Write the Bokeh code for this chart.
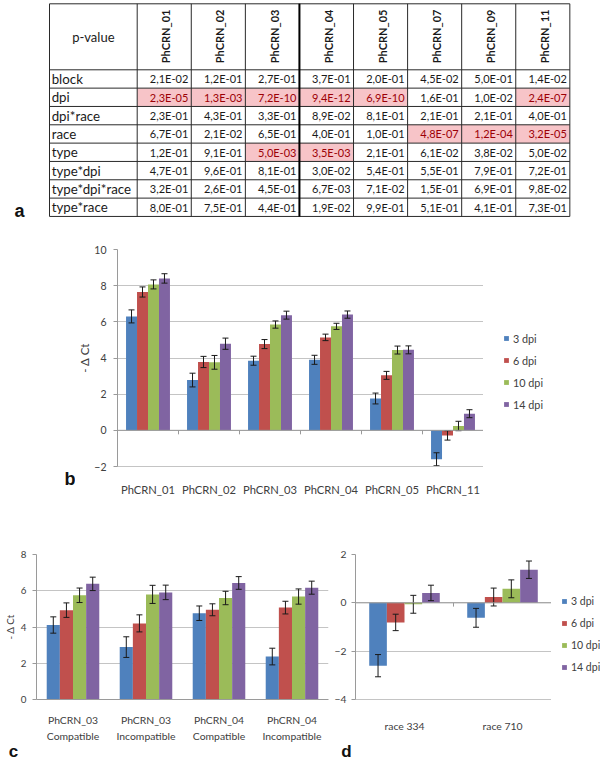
import math
from bokeh.plotting import figure
from bokeh.models import (Range1d, FactorRange, ColumnDataSource, Legend, LegendItem,
                          Label, Span, FixedTicker, Title)
from bokeh.transform import dodge
from bokeh.layouts import row
from bokeh.embed import file_html
from bokeh.resources import INLINE

# ------------------------------------------------------------------ data
table_genes = ["PhCRN_01", "PhCRN_02", "PhCRN_03", "PhCRN_04",
               "PhCRN_05", "PhCRN_07", "PhCRN_09", "PhCRN_11"]
table_effects = ["block", "dpi", "dpi*race", "race", "type",
                 "type*dpi", "type*dpi*race", "type*race"]
p_block = [2.1e-02, 1.2e-01, 2.7e-01, 3.7e-01, 2.0e-01, 4.5e-02, 5.0e-01, 1.4e-02]
p_dpi = [2.3e-05, 1.3e-03, 7.2e-10, 9.4e-12, 6.9e-10, 1.6e-01, 1.0e-02, 2.4e-07]
p_dpi_race = [2.3e-01, 4.3e-01, 3.3e-01, 8.9e-02, 8.1e-01, 2.1e-01, 2.1e-01, 4.0e-01]
p_race = [6.7e-01, 2.1e-02, 6.5e-01, 4.0e-01, 1.0e-01, 4.8e-07, 1.2e-04, 3.2e-05]
p_type = [1.2e-01, 9.1e-01, 5.0e-03, 3.5e-03, 2.1e-01, 6.1e-02, 3.8e-02, 5.0e-02]
p_type_dpi = [4.7e-01, 9.6e-01, 8.1e-01, 3.0e-02, 5.4e-01, 5.5e-01, 7.9e-01, 7.2e-01]
p_type_dpi_race = [3.2e-01, 2.6e-01, 4.5e-01, 6.7e-03, 7.1e-02, 1.5e-01, 6.9e-01, 9.8e-02]
p_type_race = [8.0e-01, 7.5e-01, 4.4e-01, 1.9e-02, 9.9e-01, 5.1e-01, 4.1e-01, 7.3e-01]
p_rows = [p_block, p_dpi, p_dpi_race, p_race, p_type, p_type_dpi, p_type_dpi_race, p_type_race]
highlight_threshold = 0.05 / 8

series = ["3 dpi", "6 dpi", "10 dpi", "14 dpi"]

genes_b = ["PhCRN_01", "PhCRN_02", "PhCRN_03", "PhCRN_04", "PhCRN_05", "PhCRN_11"]
b_3dpi = [6.30, 2.78, 3.85, 3.90, 1.76, -1.60]
b_6dpi = [7.65, 3.78, 4.77, 5.14, 3.04, -0.28]
b_10dpi = [8.07, 3.76, 5.85, 5.75, 4.44, 0.24]
b_14dpi = [8.40, 4.79, 6.37, 6.40, 4.45, 0.92]
b_3dpi_err = [0.36, 0.38, 0.25, 0.25, 0.30, 0.36]
b_6dpi_err = [0.28, 0.31, 0.25, 0.18, 0.22, 0.26]
b_10dpi_err = [0.25, 0.38, 0.20, 0.17, 0.22, 0.26]
b_14dpi_err = [0.26, 0.31, 0.22, 0.20, 0.22, 0.22]

groups_c = ["PhCRN_03\nCompatible", "PhCRN_03\nIncompatible",
            "PhCRN_04\nCompatible", "PhCRN_04\nIncompatible"]
c_3dpi = [4.11, 2.89, 4.76, 2.37]
c_6dpi = [4.93, 4.20, 4.95, 5.07]
c_10dpi = [5.75, 5.80, 5.60, 5.68]
c_14dpi = [6.38, 5.91, 6.43, 6.17]
c_3dpi_err = [0.45, 0.57, 0.40, 0.46]
c_6dpi_err = [0.40, 0.47, 0.33, 0.35]
c_10dpi_err = [0.40, 0.50, 0.37, 0.42]
c_14dpi_err = [0.37, 0.40, 0.35, 0.36]

races_d = ["race 334", "race 710"]
d_3dpi = [-2.60, -0.62]
d_6dpi = [-0.81, 0.24]
d_10dpi = [-0.06, 0.58]
d_14dpi = [0.41, 1.37]
d_3dpi_err = [0.46, 0.39]
d_6dpi_err = [0.34, 0.37]
d_10dpi_err = [0.37, 0.37]
d_14dpi_err = [0.32, 0.36]

# ------------------------------------------------------------------ style / geometry
COLORS = ["#4F81BD", "#C0504D", "#9BBB59", "#8064A2"]
FONT = "Lato"
TXT = "#404040"
GRID = "#c4c4c4"
AXIS = "#9a9a9a"
ERR = "#1a1a1a"
HL_FILL = "#F7C4C8"
HL_TEXT = "#9C0006"
LETTER_FONT = "Liberation Sans"
BAR_W = 0.18
CAP = 6

W = 600
HA, HB, HCD, HS = 225, 275, 244, 16     # table / b row / c-d row / letter strip


def ri(v):
    return int(round(v))


def fmt(v):
    return f"{v:.1E}".replace(".", ",")


def bare(fig):
    fig.grid.visible = False
    fig.outline_line_color = None
    return fig


# ------------------------------------------------------------------ (a) table
COL0, COLW, ROW0, ROWH = 136.7, 54.08, 69.3, 18.33     # pixel grid of the table
LW = 87.7 / COLW
HDR = (ROW0 - 3.3) / ROWH
ta = figure(width=W, height=HA,
            x_range=Range1d((0 - COL0) / COLW, (W - COL0) / COLW),
            y_range=Range1d((HA - ROW0) / ROWH, (0 - ROW0) / ROWH),
            output_backend="svg", toolbar_location=None,
            x_axis_location=None, y_axis_location=None,
            min_border_left=0, min_border_right=0, min_border_top=0, min_border_bottom=0)
bare(ta)

ncol = len(table_genes)
nrow = len(table_effects)
cell_x, cell_y, cell_t, cell_c = [], [], [], []
hl_l, hl_r, hl_t, hl_b = [], [], [], []
for r, vals in enumerate(p_rows):
    for c, v in enumerate(vals):
        cell_x.append(c + 1 - 0.055)
        cell_y.append(r + 0.5)
        cell_t.append(fmt(v))
        if v < highlight_threshold:
            cell_c.append(HL_TEXT)
            hl_l.append(c); hl_r.append(c + 1); hl_t.append(r); hl_b.append(r + 1)
        else:
            cell_c.append("#1a1a1a")

ta.quad(left=hl_l, right=hl_r, top=hl_t, bottom=hl_b, fill_color=HL_FILL, line_color=None)
hy = [-HDR] + list(range(nrow + 1))
ta.segment(x0=[-LW] * len(hy), y0=hy, x1=[ncol] * len(hy), y1=hy,
           line_color="#2a2a2a", line_width=1)
vx = [-LW] + list(range(ncol + 1))
ta.segment(x0=vx, y0=[-HDR] * len(vx), x1=vx, y1=[nrow] * len(vx),
           line_color="#2a2a2a", line_width=1)
ta.segment(x0=[3], y0=[-HDR], x1=[3], y1=[nrow], line_color="#000000", line_width=2)

ta.text(x=cell_x, y=cell_y, text=cell_t, text_color=cell_c,
        text_align="right", text_baseline="middle",
        text_font={"value": FONT}, text_font_size={"value": "11px"})
ta.text(x=[-LW + 0.04] * nrow, y=[r + 0.5 for r in range(nrow)], text=table_effects,
        text_color="#1a1a1a", text_align="left", text_baseline="middle",
        text_font={"value": FONT}, text_font_size={"value": "13.3px"})
ta.text(x=[c + 0.53 for c in range(ncol)], y=[-0.36] * ncol, text=table_genes,
        angle=math.pi / 2, text_color="#1a1a1a", text_align="left", text_baseline="middle",
        text_font={"value": FONT}, text_font_size={"value": "11px"},
        text_font_style="bold")
ta.text(x=[-LW / 2], y=[-HDR / 2], text=["p-value"], text_color="#1a1a1a",
        text_align="center", text_baseline="middle",
        text_font={"value": FONT}, text_font_size={"value": "13px"})
ta.add_layout(Label(x=(19 - COL0) / COLW, y=(210 - ROW0) / ROWH, text="a",
                    text_align="center", text_baseline="middle",
                    text_font=LETTER_FONT, text_font_style="bold",
                    text_font_size="18px", text_color="#111111"))


# ------------------------------------------------------------------ bar panels
def bar_panel(cats, vals, errs, fx0, fy0, width, height, frame_ref, yr, yticks,
              tick_fs, cat_fs, cat_standoff, tick_standoff, ylabel=None, ylabel_fs=None,
              ylabel_standoff=0, zero_line=True, xaxis_color=GRID, line_h=1.2):
    l, r_, t, b = frame_ref
    mb_l, mb_r = ri(l - fx0), ri(fx0 + width - r_)
    mb_t, mb_b = ri(t - fy0), ri(fy0 + height - b)
    p = figure(width=width, height=height, x_range=FactorRange(factors=cats),
               y_range=Range1d(*yr), output_backend="svg", toolbar_location=None,
               min_border_left=mb_l, min_border_right=mb_r,
               min_border_top=mb_t, min_border_bottom=mb_b)
    p.outline_line_color = None
    p.xgrid.visible = False
    p.ygrid.grid_line_color = GRID

    p.yaxis.ticker = FixedTicker(ticks=yticks)
    p.yaxis.axis_line_color = AXIS
    p.yaxis.major_tick_line_color = AXIS
    p.yaxis.major_tick_out = 4
    p.yaxis.major_tick_in = 0
    p.yaxis.minor_tick_line_color = None
    p.yaxis.major_label_standoff = tick_standoff
    p.yaxis.major_label_text_font = FONT
    p.yaxis.major_label_text_font_size = tick_fs
    p.yaxis.major_label_text_color = TXT
    if ylabel:
        p.yaxis.axis_label = ylabel
        p.yaxis.axis_label_text_font = FONT
        p.yaxis.axis_label_text_font_style = "normal"
        p.yaxis.axis_label_text_font_size = ylabel_fs
        p.yaxis.axis_label_text_color = TXT
        p.yaxis.axis_label_standoff = ylabel_standoff

    p.xaxis.axis_line_color = xaxis_color
    p.xaxis.major_tick_line_color = None
    p.xaxis.minor_tick_line_color = None
    p.xaxis.major_label_standoff = cat_standoff
    p.xaxis.major_label_text_font = FONT
    p.xaxis.major_label_text_font_size = cat_fs
    p.xaxis.major_label_text_color = TXT
    p.xaxis.major_label_text_line_height = line_h

    frame_h = height - mb_t - mb_b
    tick_len = 4 * (yr[1] - yr[0]) / frame_h
    if zero_line:
        p.add_layout(Span(location=0, dimension="width", line_color=AXIS, line_width=1))
        sep = ColumnDataSource(dict(x=cats, y0=[0] * len(cats), y1=[-tick_len] * len(cats)))
        p.segment(x0=dodge("x", 0.5, range=p.x_range), y0="y0",
                  x1=dodge("x", 0.5, range=p.x_range), y1="y1",
                  source=sep, line_color=AXIS, line_width=1)

    n = len(vals)
    for k in range(n):
        off = (k - (n - 1) / 2) * BAR_W
        src = ColumnDataSource(dict(
            x=cats, top=vals[k],
            lo=[v - e for v, e in zip(vals[k], errs[k])],
            hi=[v + e for v, e in zip(vals[k], errs[k])]))
        xd = dodge("x", off, range=p.x_range)
        p.vbar(x=xd, top="top", bottom=0, width=BAR_W, source=src,
               fill_color=COLORS[k], line_color=None)
        p.segment(x0=xd, y0="lo", x1=xd, y1="hi", source=src, line_color=ERR, line_width=1)
        p.scatter(x=xd, y="hi", marker="dash", size=CAP, line_color=ERR, source=src)
        p.scatter(x=xd, y="lo", marker="dash", size=CAP, line_color=ERR, source=src)
    return p


def legend_fig(fx0, fy0, width, height, frame_top, frame_bottom,
               glyph_left, last_center, pitch, lfs):
    lg = figure(width=width, height=height, x_range=Range1d(0, 1), y_range=Range1d(0, 1),
                output_backend="svg", toolbar_location=None,
                x_axis_location=None, y_axis_location=None,
                min_border_left=0, min_border_right=0,
                min_border_top=ri(frame_top - fy0), min_border_bottom=ri(fy0 + height - frame_bottom))
    bare(lg)
    # legend swatches: one bar each, placed outside the visible range
    swatches = [lg.vbar(x=[5], top=[5.1], bottom=[5], width=0.1, fill_color=c, line_color=None)
                for c in COLORS]
    item_h = 14
    leg = Legend(items=[LegendItem(label=s, renderers=[q]) for s, q in zip(series, swatches)],
                 location=(ri(glyph_left - fx0), ri(frame_bottom - last_center) - item_h // 2),
                 orientation="vertical", padding=0, margin=0, spacing=max(0, ri(pitch) - item_h),
                 glyph_width=6, glyph_height=6, label_height=item_h, label_standoff=4,
                 label_text_font=FONT, label_text_font_size=lfs, label_text_color=TXT,
                 border_line_color=None, background_fill_alpha=0)
    lg.add_layout(leg)
    return lg


# ---- (b) row: letter column | chart | legend
B_X0, B_X1 = 75, 483
fb_letter = figure(width=B_X0, height=HB, x_range=Range1d(0, 1), y_range=Range1d(0, 1),
                   output_backend="svg", toolbar_location=None,
                   x_axis_location=None, y_axis_location=None,
                   min_border_left=0, min_border_right=0,
                   min_border_top=249 - 225, min_border_bottom=500 - 466)
bare(fb_letter)
fb_letter.add_layout(Title(text="b", align="right", offset=0, standoff=0,
                           text_font=LETTER_FONT, text_font_style="bold",
                           text_font_size="18px", text_color="#111111"), "below")

pb = bar_panel(genes_b, [b_3dpi, b_6dpi, b_10dpi, b_14dpi],
               [b_3dpi_err, b_6dpi_err, b_10dpi_err, b_14dpi_err],
               B_X0, 225, B_X1 - B_X0, HB, (113, 483, 249, 466), (-2, 10),
               [-2, 0, 2, 4, 6, 8, 10], "10.5px", "11.2px", 10, 7,
               ylabel="- Δ Ct", ylabel_fs="11.5px", ylabel_standoff=0)
lgb = legend_fig(B_X1, 225, W - B_X1, HB, 249, 466, 502.7, 404.3, 22.5, "10.8px")

# ---- (c)/(d) row
C_X1, D_X1 = 330, 551
pc = bar_panel(groups_c, [c_3dpi, c_6dpi, c_10dpi, c_14dpi],
               [c_3dpi_err, c_6dpi_err, c_10dpi_err, c_14dpi_err],
               0, 500, C_X1, HCD, (32, 328, 554, 707), (0, 8), [0, 2, 4, 6, 8],
               "9.8px", "10.4px", 8, 6, ylabel="- Δ Ct", ylabel_fs="9.8px",
               ylabel_standoff=2, zero_line=False, xaxis_color=AXIS, line_h=1.35)
pd_ = bar_panel(races_d, [d_3dpi, d_6dpi, d_10dpi, d_14dpi],
                [d_3dpi_err, d_6dpi_err, d_10dpi_err, d_14dpi_err],
                C_X1, 500, D_X1 - C_X1, HCD, (355, 551, 554, 708), (-4, 2), [-4, -2, 0, 2],
                "10.3px", "10.4px", 14, 5)
lgd = legend_fig(D_X1, 500, W - D_X1, HCD, 554, 708, 561, 676.2, 22.3, "10.5px")

# ---- letter strip under (c)/(d)
S_Y0 = 500 + HCD
strip = figure(width=W, height=HS, x_range=Range1d(0, W), y_range=Range1d(S_Y0 + HS, S_Y0),
               output_backend="svg", toolbar_location=None,
               x_axis_location=None, y_axis_location=None,
               min_border_left=0, min_border_right=0, min_border_top=0, min_border_bottom=0)
bare(strip)
for letter, lx, ly in (("c", 13, 751), ("d", 346, 751)):
    strip.add_layout(Label(x=lx, y=ly, text=letter, text_align="center", text_baseline="middle",
                           text_font=LETTER_FONT, text_font_style="bold",
                           text_font_size="17px", text_color="#111111"))

roots = [ta, row(fb_letter, pb, lgb), row(pc, pd_, lgd), strip]

open("out.html", "w").write(file_html(roots, INLINE))
